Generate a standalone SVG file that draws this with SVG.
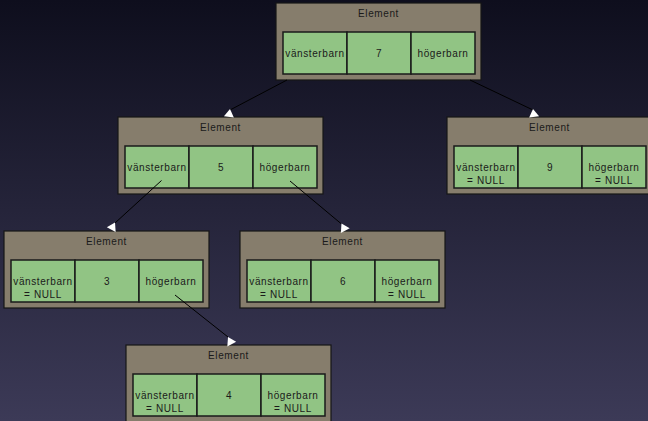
<svg xmlns="http://www.w3.org/2000/svg" xmlns:xlink="http://www.w3.org/1999/xlink" width="648" height="421" viewBox="0 0 648 421">
<defs>
<linearGradient id="bg" x1="0" y1="0" x2="0" y2="1">
<stop offset="0" stop-color="#0e0e1d"/>
<stop offset="1" stop-color="#3c3a57"/>
</linearGradient>
<path id="tri" d="M0,0 L-5,8 L5,8 Z"/>
<style>
.outer{fill:#867d6c;stroke:#161616;stroke-width:1.2}
.cell{fill:#91c484;stroke:#1a1a1a;stroke-width:1.5}
text{font-family:"Liberation Sans",Arial,sans-serif;font-size:10px;letter-spacing:0.6px;fill:#1a1a1a;text-anchor:middle}
.conn line{stroke:#000;stroke-width:1}
.conn use{fill:#fff;stroke:none}
</style>
</defs>
<rect width="648" height="421" fill="url(#bg)"/>

<g id="node7" transform="translate(276,3)">
<rect class="outer" x="0" y="0" width="205" height="77"/>
<text x="102.5" y="13.5">Element</text>
<rect class="cell" x="7" y="29" width="64" height="42"/>
<rect class="cell" x="71" y="29" width="64" height="42"/>
<rect class="cell" x="135" y="29" width="64" height="42"/>
<text x="39" y="53.5">vänsterbarn</text>
<text x="103" y="53.5">7</text>
<text x="167" y="53.5">högerbarn</text>
</g>

<g id="node5" transform="translate(118,117)">
<rect class="outer" x="0" y="0" width="205" height="77"/>
<text x="102.5" y="13.5">Element</text>
<rect class="cell" x="7" y="29" width="64" height="42"/>
<rect class="cell" x="71" y="29" width="64" height="42"/>
<rect class="cell" x="135" y="29" width="64" height="42"/>
<text x="39" y="53.5">vänsterbarn</text>
<text x="103" y="53.5">5</text>
<text x="167" y="53.5">högerbarn</text>
</g>

<g id="node9" transform="translate(447,117)">
<rect class="outer" x="0" y="0" width="205" height="77"/>
<text x="102.5" y="13.5">Element</text>
<rect class="cell" x="7" y="29" width="64" height="42"/>
<rect class="cell" x="71" y="29" width="64" height="42"/>
<rect class="cell" x="135" y="29" width="64" height="42"/>
<text x="39" y="53.5">vänsterbarn</text>
<text x="39" y="66.5">= NULL</text>
<text x="103" y="53.5">9</text>
<text x="167" y="53.5">högerbarn</text>
<text x="167" y="66.5">= NULL</text>
</g>

<g id="node3" transform="translate(4,231)">
<rect class="outer" x="0" y="0" width="205" height="77"/>
<text x="102.5" y="13.5">Element</text>
<rect class="cell" x="7" y="29" width="64" height="42"/>
<rect class="cell" x="71" y="29" width="64" height="42"/>
<rect class="cell" x="135" y="29" width="64" height="42"/>
<text x="39" y="53.5">vänsterbarn</text>
<text x="39" y="66.5">= NULL</text>
<text x="103" y="53.5">3</text>
<text x="167" y="53.5">högerbarn</text>
</g>

<g id="node6" transform="translate(240,231)">
<rect class="outer" x="0" y="0" width="205" height="77"/>
<text x="102.5" y="13.5">Element</text>
<rect class="cell" x="7" y="29" width="64" height="42"/>
<rect class="cell" x="71" y="29" width="64" height="42"/>
<rect class="cell" x="135" y="29" width="64" height="42"/>
<text x="39" y="53.5">vänsterbarn</text>
<text x="39" y="66.5">= NULL</text>
<text x="103" y="53.5">6</text>
<text x="167" y="53.5">högerbarn</text>
<text x="167" y="66.5">= NULL</text>
</g>

<g id="node4" transform="translate(126,345)">
<rect class="outer" x="0" y="0" width="205" height="77"/>
<text x="102.5" y="13.5">Element</text>
<rect class="cell" x="7" y="29" width="64" height="42"/>
<rect class="cell" x="71" y="29" width="64" height="42"/>
<rect class="cell" x="135" y="29" width="64" height="42"/>
<text x="39" y="53.5">vänsterbarn</text>
<text x="39" y="66.5">= NULL</text>
<text x="103" y="53.5">4</text>
<text x="167" y="53.5">högerbarn</text>
<text x="167" y="66.5">= NULL</text>
</g>

<g id="connectors" class="conn">
<line x1="287" y1="80" x2="230" y2="110"/>
<use xlink:href="#tri" href="#tri" transform="translate(230,109) rotate(8)"/>
<line x1="470" y1="80" x2="533" y2="110"/>
<use xlink:href="#tri" href="#tri" transform="translate(533,109) rotate(-8)"/>
<line x1="161.5" y1="180.5" x2="115" y2="223"/>
<use xlink:href="#tri" href="#tri" transform="translate(115,222.5) rotate(28)"/>
<line x1="290" y1="181" x2="341.5" y2="224"/>
<use xlink:href="#tri" href="#tri" transform="translate(341.5,223.5) rotate(-28)"/>
<line x1="175" y1="295" x2="228" y2="337"/>
<use xlink:href="#tri" href="#tri" transform="translate(228,337) rotate(-28)"/>
</g>
</svg>
